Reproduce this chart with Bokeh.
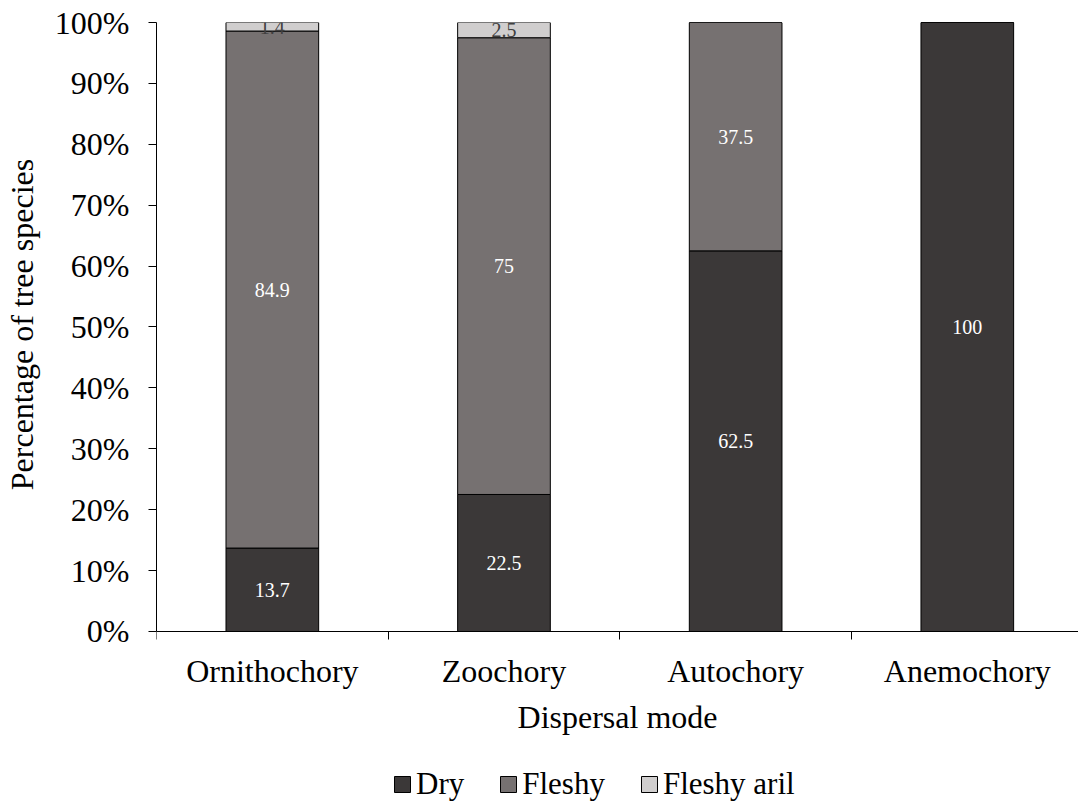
from bokeh.plotting import figure
from bokeh.models import (ColumnDataSource, Range1d, FixedTicker, Legend, LegendItem)
from bokeh.core.properties import value
from bokeh.embed import file_html
from bokeh.resources import INLINE

categories = ["Ornithochory", "Zoochory", "Autochory", "Anemochory"]
dry = [13.7, 22.5, 62.5, 100]
fleshy = [84.9, 75, 37.5, 0]
fleshy_aril = [1.4, 2.5, 0, 0]
series = ["Dry", "Fleshy", "Fleshy aril"]
colors = ["#3B3838", "#767171", "#D0CECE"]
y_ticks = list(range(0, 101, 10))

FONT = "Liberation Serif"
x = [i + 0.5 for i in range(len(categories))]

src = ColumnDataSource(dict(x=x, Dry=dry, Fleshy=fleshy, **{"Fleshy aril": fleshy_aril}))

# frame extends below the 0% line to leave room for axis texts and legend
p = figure(width=1078, height=802, x_range=Range1d(0, 3.98), y_range=Range1d(-28.08, 100),
           output_backend="svg", toolbar_location=None,
           min_border_left=156, min_border_top=22, min_border_right=0, min_border_bottom=0)
p.outline_line_color = None
p.xgrid.visible = False
p.ygrid.visible = False

renderers = p.vbar_stack(series, x="x", width=0.4, source=src, color=colors,
                         line_color="black", line_width=1)

# labels
lx, ly, lt, lc = [], [], [], []
for i in range(len(categories)):
    base = 0
    for vals, col in ((dry, "white"), (fleshy, "white"), (fleshy_aril, "#404040")):
        v = vals[i]
        if v > 0:
            lx.append(x[i]); ly.append(base + v / 2)
            lt.append(f"{v:g}"); lc.append(col)
        base += v
lsrc = ColumnDataSource(dict(x=lx, y=ly, t=lt, c=lc))
p.text(x="x", y="y", text="t", source=lsrc, text_color="c", text_align="center",
       text_baseline="middle", text_font=value(FONT), text_font_size="20px")

# y axis
p.yaxis.ticker = FixedTicker(ticks=y_ticks)
p.yaxis.bounds = (0, 100)
p.yaxis.major_label_overrides = {t: f"{t}%" for t in y_ticks}
p.yaxis.major_tick_in = 0
p.yaxis.major_tick_out = 8
p.yaxis.major_label_standoff = 19
# leading non-breaking spaces shift the centred title up to the middle of the 0-100 span
p.yaxis.axis_label = "\u00a0" * 22 + "Percentage of tree species"
p.yaxis.axis_label_standoff = 12

# x axis, pinned at 0%
p.xaxis.fixed_location = 0
p.xaxis.ticker = FixedTicker(ticks=x, minor_ticks=list(range(len(categories) + 1)))
p.xaxis.major_label_overrides = {xi: c for xi, c in zip(x, categories)}
p.xaxis.major_tick_in = 0
p.xaxis.major_tick_out = 0
p.xaxis.minor_tick_in = 0
p.xaxis.minor_tick_out = 8
p.xaxis.major_label_standoff = 14
p.xaxis.axis_label = "Dispersal mode"
p.xaxis.axis_label_standoff = 6

for ax in (p.xaxis[0], p.yaxis[0]):
    ax.axis_line_color = "black"
    ax.major_tick_line_color = "black"
    ax.major_label_text_font = FONT
    ax.major_label_text_font_size = "32px"
    ax.major_label_text_color = "black"
    ax.axis_label_text_font = FONT
    ax.axis_label_text_font_size = "32px"
    ax.axis_label_text_font_style = "normal"
    ax.axis_label_text_color = "black"
p.xaxis.minor_tick_line_color = "black"
p.yaxis.minor_tick_line_color = None

legend = Legend(items=[LegendItem(label=s, renderers=[r]) for s, r in zip(series, renderers)],
                orientation="horizontal", location=(236, 0),
                label_text_font=FONT, label_text_font_size="31px", label_text_color="black",
                glyph_width=20, glyph_height=20, label_standoff=4, spacing=34,
                border_line_color=None, background_fill_alpha=0, margin=0, padding=0)
p.add_layout(legend, "center")

open("out.html", "w").write(file_html(p, INLINE))
